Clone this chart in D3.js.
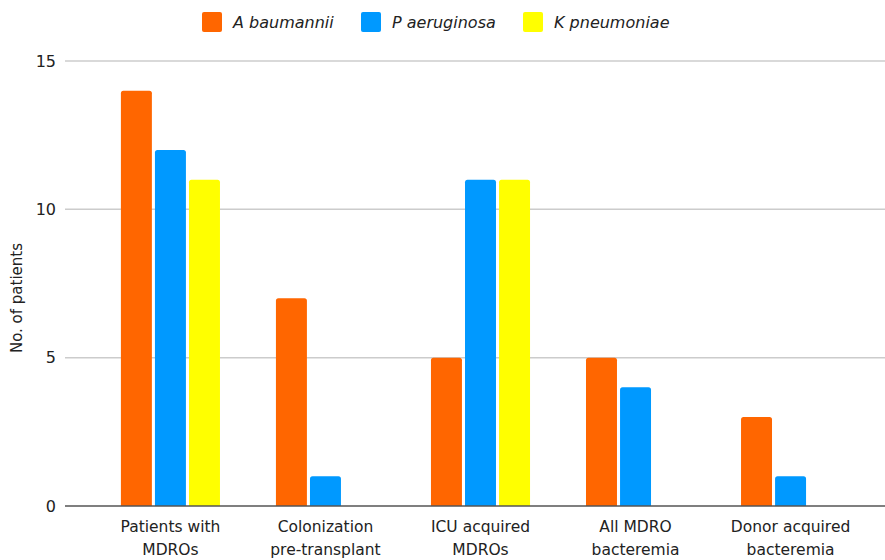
<!DOCTYPE html>
<html>
<head>
<meta charset="utf-8">
<script src="https://cdn.jsdelivr.net/npm/d3@7/dist/d3.min.js"></script>
<style>
  html, body { margin: 0; padding: 0; background: #fff; }
  svg { display: block; font-family: "DejaVu Sans", Verdana, sans-serif; }
</style>
</head>
<body>
<svg id="chart" width="885" height="560"></svg>
<script>
// Categories (x axis), two-line labels
const categories = [
  ["Patients with", "MDROs"],
  ["Colonization", "pre-transplant"],
  ["ICU acquired", "MDROs"],
  ["All MDRO", "bacteremia"],
  ["Donor acquired", "bacteremia"]
];
const seriesNames = ["A baumannii", "P aeruginosa", "K pneumoniae"];
const seriesColors = ["#FF6600", "#0099FF", "#FFFF00"];

// Number of patients per category, one array per organism
const aBaumannii = [14, 7, 5, 5, 3];
const pAeruginosa = [12, 1, 11, 4, 1];
const kPneumoniae = [11, 0, 11, 0, 0];
const seriesValues = [aBaumannii, pAeruginosa, kPneumoniae];

const yTicks = [0, 5, 10, 15];

const svg = d3.select("#chart");
const textColor = "#222";

const y = d3.scaleLinear().domain([0, 15]).range([506, 61]);
const x0 = d3.scaleBand().domain(d3.range(categories.length)).range([93, 868]).paddingInner(0.361).paddingOuter(0.18);
const x1 = d3.scaleBand().domain(d3.range(seriesNames.length)).range([0, x0.bandwidth()]).paddingInner(0.09);

const gridLeft = 65, gridRight = 885;

// Gridlines
svg.append("g").selectAll("line")
  .data(yTicks.filter(t => t > 0))
  .join("line")
  .attr("x1", gridLeft).attr("x2", gridRight)
  .attr("y1", d => y(d)).attr("y2", d => y(d))
  .attr("stroke", "#cccccc").attr("stroke-width", 1.5);

// Y tick labels
svg.append("g").selectAll("text")
  .data(yTicks)
  .join("text")
  .attr("x", 56).attr("y", d => y(d))
  .attr("dy", "0.36em")
  .attr("text-anchor", "end")
  .attr("font-size", 16)
  .attr("fill", textColor)
  .text(d => d);

// Y axis title
svg.append("text")
  .attr("transform", "translate(22,298) rotate(-90)")
  .attr("text-anchor", "middle")
  .attr("font-size", 15)
  .attr("fill", textColor)
  .text("No. of patients");

// Bars with rounded top corners
function topRounded(xp, yp, w, h, r) {
  r = Math.min(r, h, w / 2);
  return `M${xp},${yp + h}V${yp + r}Q${xp},${yp} ${xp + r},${yp}H${xp + w - r}Q${xp + w},${yp} ${xp + w},${yp + r}V${yp + h}Z`;
}

const groups = svg.append("g").selectAll("g")
  .data(categories.map((c, i) => i))
  .join("g")
  .attr("transform", i => `translate(${x0(i)},0)`);

groups.selectAll("path")
  .data(i => seriesValues.map((vals, s) => ({ s, v: vals[i] })).filter(d => d.v > 0))
  .join("path")
  .attr("d", d => topRounded(x1(d.s), y(d.v), x1.bandwidth(), y(0) - y(d.v), 2.5))
  .attr("fill", d => seriesColors[d.s]);

// Baseline
svg.append("line")
  .attr("x1", gridLeft).attr("x2", gridRight)
  .attr("y1", y(0)).attr("y2", y(0))
  .attr("stroke", "#555").attr("stroke-width", 1.5);

// X labels
const xl = svg.append("g").selectAll("text")
  .data(categories)
  .join("text")
  .attr("text-anchor", "middle")
  .attr("font-size", 15.5)
  .attr("fill", textColor)
  .attr("transform", (d, i) => `translate(${x0(i) + x0.bandwidth() / 2},0)`);
xl.selectAll("tspan")
  .data(d => d)
  .join("tspan")
  .attr("x", 0)
  .attr("y", (d, j) => 532 + j * 23)
  .text(d => d);

// Legend
const legendX = [202, 361, 523];
const lg = svg.append("g").selectAll("g")
  .data(seriesNames)
  .join("g")
  .attr("transform", (d, i) => `translate(${legendX[i]},12)`);
lg.append("rect")
  .attr("width", 20).attr("height", 20).attr("rx", 2)
  .attr("fill", (d, i) => seriesColors[i]);
lg.append("text")
  .attr("x", 31).attr("y", 10).attr("dy", "0.36em")
  .attr("font-size", 16)
  .attr("font-style", "italic")
  .attr("fill", textColor)
  .text(d => d);
</script>
</body>
</html>
